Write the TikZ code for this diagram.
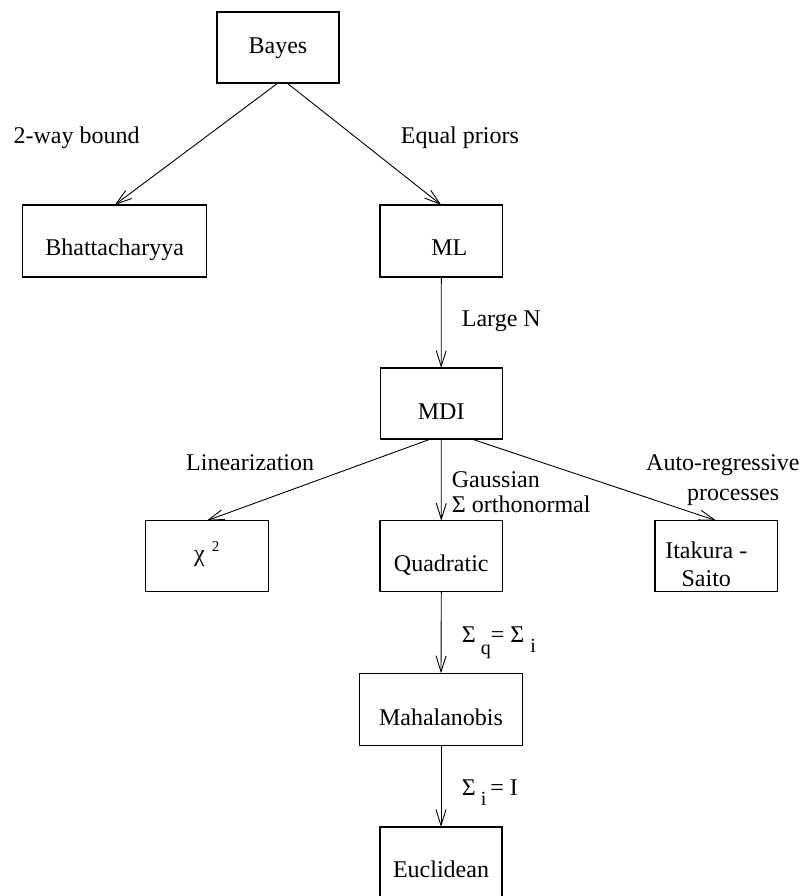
\documentclass[tikz,border=0pt]{standalone}
\usepackage{fontspec}
\setmainfont{Liberation Serif}
\usetikzlibrary{arrows.meta}
\newcommand{\subsz}{\fontsize{20}{20}\selectfont}
\begin{document}
\begin{tikzpicture}[x=1pt,y=-1pt,
  font=\fontsize{24}{28}\selectfont,
  box/.style={draw, line width=1.1pt, inner sep=0pt, outer sep=0pt, text depth=0pt},
  arr/.style={line width=0.9pt, -{Straight Barb[length=16pt,width=10pt]}},
  lbl/.style={anchor=base west, inner sep=0pt}]
\useasboundingbox (0,0) rectangle (807,896);

% boxes
\node[box, minimum width=122pt, minimum height=71pt, text height=11.6pt] (bayes) at (278,47.5) {Bayes};
\node[box, minimum width=184pt, minimum height=72pt, text height=29.4pt] (bhat) at (114.7,241) {Bhattacharyya};
\node[box, minimum width=122.7pt, minimum height=72pt, text height=29.4pt] (ml) at (441.3,241) {\hspace*{16pt}ML};
\node[box, minimum width=122.3pt, minimum height=71pt, text height=31pt] (mdi) at (441.2,403.5) {MDI};
\node[box, minimum width=123.3pt, minimum height=71pt, text height=10pt] (chi) at (206.7,556.2) {χ\hspace{7pt}\raisebox{10pt}{\fontsize{15}{15}\selectfont 2}};
\node[box, minimum width=122.7pt, minimum height=71pt, text height=31.4pt] (quad) at (441.3,556.2) {Quadratic};
\node[box, minimum width=122.7pt, minimum height=71pt] (ita) at (716.3,556.2) {\begin{tabular}{@{}c@{}}Itakura -\\Saito\end{tabular}\hspace*{20pt}};
\node[box, minimum width=163.4pt, minimum height=71.7pt, text height=32pt] (mah) at (441,709.2) {Mahalanobis};
\node[box, minimum width=122pt, minimum height=71pt, text height=30.4pt] (euc) at (441,862.5) {Euclidean};

% connectors
\draw[arr] (bayes.south) -- (bhat.north);
\draw[arr] ([xshift=9pt]bayes.south) -- (ml.north);
\draw[arr] (ml.south) -- (mdi.north);
\draw[arr] ([xshift=-10.5pt]mdi.south) -- (chi.north);
\draw[arr] (mdi.south) -- (quad.north);
\draw[arr] ([xshift=30.5pt]mdi.south) -- (ita.north);
\draw[arr] (quad.south) -- (mah.north);
\draw[arr] (mah.south) -- (euc.north);

% labels
\node[lbl] (l2way) at (13.4,143.3) {2-way bound};
\node[lbl] (leq) at (400.7,143.5) {Equal priors};
\node[lbl] (llarge) at (461.7,326.7) {Large N};
\node[lbl] (llin) at (186,470) {Linearization};
\node[lbl] (lgau) at (451.7,487) {Gaussian};
\node[lbl] (lorth) at (451.7,512) {Σ orthonormal};
\node[lbl] (lauto) at (646,470) {Auto-regressive};
\node[lbl] (lproc) at (687,500) {processes};
\node[lbl] (lsq) at (461.7,642.7) {Σ\hspace{5pt}\raisebox{-12pt}{\subsz q}= Σ\hspace{6pt}\raisebox{-10pt}{\subsz i}};
\node[lbl] (lsi) at (461.7,795) {Σ\hspace{5pt}\raisebox{-10pt}{\subsz i}\hspace{4pt}= I};
\end{tikzpicture}
\end{document}
